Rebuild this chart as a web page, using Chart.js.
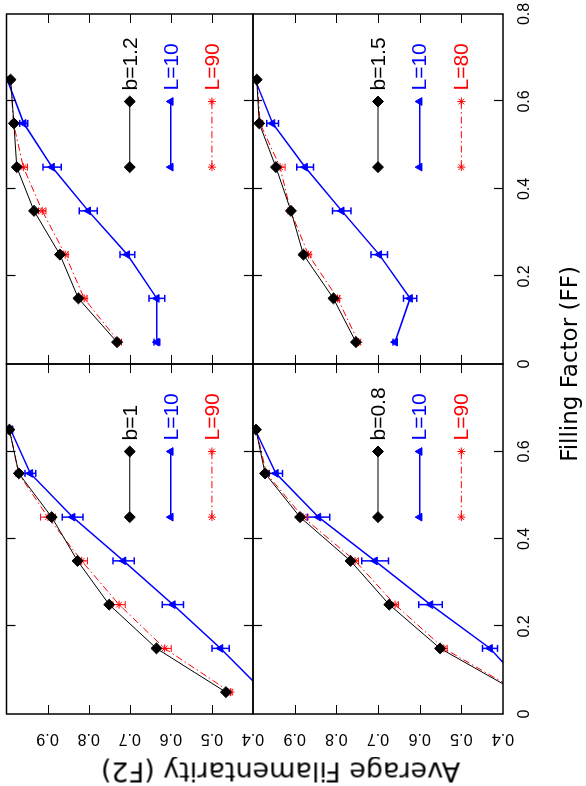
<!DOCTYPE html>
<html>
<head>
<meta charset="utf-8">
<script src="https://cdn.jsdelivr.net/npm/chart.js@4.4.1/dist/chart.umd.min.js"></script>
<style>
  html, body { margin: 0; padding: 0; background: #fff; }
  body { width: 586px; height: 786px; overflow: hidden; position: relative; }
  /* the figure is drawn landscape and turned a quarter turn, like the original */
  #fig { position: absolute; left: 0; top: 0; width: 786px; height: 586px;
         transform-origin: 0 0; transform: translateY(786px) rotate(-90deg); }
  #fig canvas { position: absolute; left: 0; top: 0; }
  .title { position: absolute; font-family: 'DejaVu Sans', sans-serif;
           color: #000; white-space: nowrap; text-align: center; }
</style>
</head>
<body>
<div id="fig">
  <canvas id="pB10" width="786" height="586"></canvas>
  <canvas id="pB12" width="786" height="586"></canvas>
  <canvas id="pB08" width="786" height="586"></canvas>
  <canvas id="pB15" width="786" height="586"></canvas>
  <div class="title" id="xTitle" style="left:222px; top:556px; width:400px; font-size:23px;">Filling Factor (FF)</div>
  <div class="title" id="yTitle" style="left:-186px; top:265px; width:400px; font-size:27px; transform: rotate(-90deg);">Average Filamentarity (F2)</div>
</div>
<script>
// filling factor values where F2 was measured
const ff = [0.05, 0.15, 0.25, 0.35, 0.45, 0.55, 0.65];

// b = 1
const b10Ref = [0.466, 0.635, 0.750, 0.827, 0.890, 0.970, 0.993];
const b10L10 = [0.373, 0.479, 0.595, 0.715, 0.839, 0.942, 0.990];
const b10L10Err = [0.008, 0.021, 0.026, 0.026, 0.025, 0.013, 0.004];
const b10L90 = [0.455, 0.615, 0.726, 0.817, 0.899, 0.971, 0.992];
const b10L90Err = [0.004, 0.016, 0.015, 0.014, 0.018, 0.006, 0.002];

// b = 1.2
const b12Ref = [0.731, 0.825, 0.870, 0.933, 0.975, 0.982, 0.990];
const b12L10 = [0.634, 0.634, 0.706, 0.801, 0.889, 0.958, 0.998];
const b12L10Err = [0.007, 0.019, 0.018, 0.022, 0.022, 0.010, 0.004];
const b12L90 = [0.726, 0.811, 0.857, 0.913, 0.959, 0.983, 0.990];
const b12L90Err = [0.006, 0.007, 0.007, 0.009, 0.010, 0.005, 0.002];

// b = 0.8
const b08Ref = [0.365, 0.551, 0.673, 0.766, 0.887, 0.971, 0.993];
const b08L10 = [0.335, 0.431, 0.574, 0.707, 0.843, 0.945, 0.995];
const b08L10Err = [0.010, 0.018, 0.028, 0.032, 0.027, 0.016, 0.004];
const b08L90 = [0.360, 0.542, 0.659, 0.755, 0.880, 0.968, 0.992];
const b08L90Err = [0.005, 0.008, 0.008, 0.008, 0.012, 0.006, 0.002];

// b = 1.5
const b15Ref = [0.753, 0.807, 0.879, 0.909, 0.945, 0.985, 0.991];
const b15L10 = [0.659, 0.623, 0.697, 0.787, 0.875, 0.953, 0.995];
const b15L10Err = [0.005, 0.016, 0.020, 0.022, 0.020, 0.014, 0.004];
const b15L80 = [0.747, 0.797, 0.867, 0.910, 0.935, 0.983, 0.990];
const b15L80Err = [0.004, 0.005, 0.006, 0.006, 0.012, 0.006, 0.002];

const ffTicks = [0, 0.2, 0.4, 0.6, 0.8];
const f2Ticks = [0.4, 0.5, 0.6, 0.7, 0.8, 0.9, 1.0];

const TICK_FONT = { family: 'Liberation Sans', size: 16 };
const KEY_FONT = '21px "Liberation Sans"';
const TICK_LEN = 9;
const CAP = 3.5;

const pts = (ys) => ff.map((x, i) => ({ x: x, y: ys[i] }));

// error bars, drawn under the markers
const errorBars = {
  id: 'errorBars',
  beforeDatasetsDraw(chart) {
    const { ctx, chartArea: a, scales: { x, y } } = chart;
    ctx.save();
    ctx.beginPath();
    ctx.rect(a.left, a.top, a.width, a.height);
    ctx.clip();
    chart.data.datasets.forEach(ds => {
      if (!ds.errors) return;
      ctx.strokeStyle = ds.borderColor;
      ctx.lineWidth = ds.borderWidth;
      ctx.beginPath();
      ds.data.forEach((p, j) => {
        const px = x.getPixelForValue(p.x);
        const lo = y.getPixelForValue(p.y - ds.errors[j]);
        const hi = y.getPixelForValue(p.y + ds.errors[j]);
        ctx.moveTo(px, lo); ctx.lineTo(px, hi);
        ctx.moveTo(px - CAP, lo); ctx.lineTo(px + CAP, lo);
        ctx.moveTo(px - CAP, hi); ctx.lineTo(px + CAP, hi);
      });
      ctx.stroke();
    });
    ctx.restore();
  }
};

// box around each panel with inward ticks on all four sides
const frame = {
  id: 'frame',
  afterDraw(chart) {
    const { ctx, chartArea: a, scales: { x, y } } = chart;
    ctx.save();
    ctx.strokeStyle = '#000';
    ctx.lineWidth = 1.2;
    ctx.beginPath();
    x.ticks.forEach(t => {
      if (t.value <= x.min || t.value >= x.max) return;
      const px = Math.round(x.getPixelForValue(t.value)) + 0.5;
      ctx.moveTo(px, a.bottom); ctx.lineTo(px, a.bottom - TICK_LEN);
      ctx.moveTo(px, a.top); ctx.lineTo(px, a.top + TICK_LEN);
    });
    y.ticks.forEach(t => {
      if (t.value <= y.min + 1e-9 || t.value >= y.max - 1e-9) return;
      const py = Math.round(y.getPixelForValue(t.value)) + 0.5;
      ctx.moveTo(a.left, py); ctx.lineTo(a.left + TICK_LEN, py);
      ctx.moveTo(a.right, py); ctx.lineTo(a.right - TICK_LEN, py);
    });
    ctx.stroke();
    ctx.lineWidth = 1.5;
    ctx.strokeRect(a.left, a.top, a.width, a.height);
    ctx.restore();
  }
};

// in-panel key: a short sample line with a marker at each end, then the label
const key = {
  id: 'key',
  afterDatasetsDraw(chart, args, opts) {
    const { ctx, scales: { x, y } } = chart;
    const x0 = x.getPixelForValue(opts.from);
    const x1 = x.getPixelForValue(opts.to);
    chart.data.datasets.forEach((ds, i) => {
      const py = y.getPixelForValue(opts.rows[i]);
      ctx.save();
      ctx.strokeStyle = ds.borderColor;
      ctx.lineWidth = ds.borderWidth;
      ctx.setLineDash(ds.borderDash || []);
      ctx.beginPath();
      ctx.moveTo(x0, py); ctx.lineTo(x1, py);
      ctx.stroke();
      ctx.setLineDash([]);
      ctx.fillStyle = ds.pointBackgroundColor;
      ctx.strokeStyle = ds.pointBorderColor;
      ctx.lineWidth = ds.pointBorderWidth;
      const style = { pointStyle: ds.pointStyle, radius: ds.pointRadius, borderWidth: ds.pointBorderWidth, rotation: 0 };
      Chart.helpers.drawPoint(ctx, style, x0, py);
      Chart.helpers.drawPoint(ctx, style, x1, py);
      ctx.fillStyle = ds.borderColor;
      ctx.font = KEY_FONT;
      ctx.textAlign = 'left';
      ctx.textBaseline = 'middle';
      ctx.fillText(ds.label, x1 + opts.gap, py + 1);
      ctx.restore();
    });
  }
};

function refSet(label, ys) {
  return {
    label: label, data: pts(ys), order: 0,
    borderColor: '#000', borderWidth: 1,
    pointStyle: 'rectRot', pointRadius: 5.5,
    pointBackgroundColor: '#000', pointBorderColor: '#000', pointBorderWidth: 1
  };
}
function smallSet(label, ys, errs) {
  return {
    label: label, data: pts(ys), errors: errs, order: 1,
    borderColor: '#0000ff', borderWidth: 1.5,
    pointStyle: 'triangle', pointRadius: 4.5,
    pointBackgroundColor: '#0000ff', pointBorderColor: '#0000ff', pointBorderWidth: 1
  };
}
function bigSet(label, ys, errs) {
  return {
    label: label, data: pts(ys), errors: errs, order: 2,
    borderColor: '#ff0000', borderWidth: 1, borderDash: [7, 3, 1.5, 3],
    pointStyle: 'star', pointRadius: 4,
    pointBackgroundColor: '#ff0000', pointBorderColor: '#ff0000', pointBorderWidth: 1
  };
}

// panel grid in the landscape figure
const PLOT_LEFT = 72, PLOT_TOP = 3, PANEL_W = 350, PANEL_H = 250, AXIS = 40;
const W = 786, H = 586;

// fixed axis size and no extra room for overhanging labels, so panels butt together
function fixAxis(s) {
  if (s.isHorizontal()) s.height = AXIS; else s.width = AXIS;
  s.paddingTop = 0; s.paddingBottom = 0; s.paddingLeft = 0; s.paddingRight = 0;
}

function panel(id, col, row, datasets) {
  const left = PLOT_LEFT + col * PANEL_W;
  const top = PLOT_TOP + row * PANEL_H;
  new Chart(document.getElementById(id), {
    type: 'scatter',
    data: { datasets: datasets },
    plugins: [errorBars, frame, key],
    options: {
      responsive: false,
      animation: false,
      events: [],
      devicePixelRatio: 1,
      showLine: true,
      layout: { padding: { left: left - AXIS, top: top, right: W - left - PANEL_W, bottom: H - top - PANEL_H - AXIS } },
      elements: { line: { tension: 0 } },
      scales: {
        x: {
          type: 'linear', position: 'bottom', min: 0, max: 0.8,
          afterBuildTicks: s => { s.ticks = ffTicks.map(v => ({ value: v })); },
          afterFit: fixAxis,
          grid: { display: false }, border: { display: false },
          ticks: {
            display: row === 1, padding: 4, maxRotation: 0, autoSkip: false,
            color: '#000', font: TICK_FONT,
            callback: v => (col === 0 && v > 0.75) ? '' : String(Math.round(v * 10) / 10)
          }
        },
        y: {
          type: 'linear', position: 'left', min: 0.4, max: 1.0,
          afterBuildTicks: s => { s.ticks = f2Ticks.map(v => ({ value: v })); },
          afterFit: fixAxis,
          grid: { display: false }, border: { display: false },
          ticks: {
            display: col === 0, padding: 5, minRotation: 90, maxRotation: 90,
            crossAlign: 'center', autoSkip: false,
            color: '#000', font: TICK_FONT,
            callback: v => v > 0.95 ? '' : v.toFixed(1)
          }
        }
      },
      plugins: {
        legend: { display: false },
        tooltip: { enabled: false },
        key: { from: 0.45, to: 0.6, rows: [0.7, 0.6, 0.5], gap: 11 }
      }
    }
  });
}

panel('pB10', 0, 0, [refSet('b=1', b10Ref), smallSet('L=10', b10L10, b10L10Err), bigSet('L=90', b10L90, b10L90Err)]);
panel('pB12', 1, 0, [refSet('b=1.2', b12Ref), smallSet('L=10', b12L10, b12L10Err), bigSet('L=90', b12L90, b12L90Err)]);
panel('pB08', 0, 1, [refSet('b=0.8', b08Ref), smallSet('L=10', b08L10, b08L10Err), bigSet('L=90', b08L90, b08L90Err)]);
panel('pB15', 1, 1, [refSet('b=1.5', b15Ref), smallSet('L=10', b15L10, b15L10Err), bigSet('L=80', b15L80, b15L80Err)]);
</script>
</body>
</html>
